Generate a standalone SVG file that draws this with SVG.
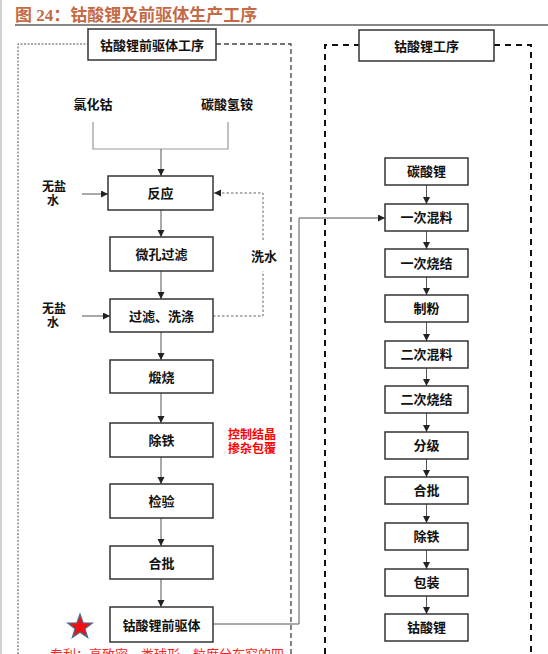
<svg xmlns="http://www.w3.org/2000/svg" width="548" height="654" viewBox="0 0 548 654">
<style>
text{font-family:"Liberation Sans","Noto Sans CJK SC",sans-serif;}
.box{fill:#fff;stroke:#333;stroke-width:1.5;}
.t{font-size:13px;font-weight:bold;fill:#111;text-anchor:middle;dominant-baseline:central;}
.s{font-size:12px;font-weight:bold;fill:#111;text-anchor:middle;dominant-baseline:central;}
.red{font-size:12px;font-weight:bold;fill:#ff0000;text-anchor:middle;dominant-baseline:central;}
.ln{fill:none;stroke:#555;stroke-width:1;}
.lg{fill:none;stroke:#999;stroke-width:1.2;}
.dot{fill:none;stroke:#666;stroke-width:1;stroke-dasharray:2.5,2;}
</style>
<defs>
<marker id="ah" markerUnits="userSpaceOnUse" markerWidth="8" markerHeight="8" refX="7" refY="3.5" orient="auto">
<path d="M0,0 L7,3.5 L0,7 z" fill="#222"/>
</marker>
</defs>
<rect width="548" height="654" fill="#fff"/>
<line x1="1" y1="0" x2="1" y2="654" stroke="#d0d0d0" stroke-width="2"/>
<g id="title">
<text x="15" y="21" style="font-family:'Liberation Serif','Noto Sans CJK SC',serif;font-size:17px;font-weight:bold;fill:#c46a45;">图 24：钴酸锂及前驱体生产工序</text>
<line x1="15" y1="25" x2="548" y2="25" stroke="#111" stroke-width="1.2"/>
</g>
<g id="frames">
<path d="M18,654 V44 H88" fill="none" stroke="#555" stroke-width="1" stroke-dasharray="2,1.5"/>
<path d="M216,44 H291 V654" fill="none" stroke="#444" stroke-width="1.3" stroke-dasharray="5,3"/>
<path d="M325,654 V45 H359 M494,45 H531 V654" fill="none" stroke="#111" stroke-width="2" stroke-dasharray="6,5"/>
</g>
<g id="label-left"><rect class="box" x="88" y="29" width="128" height="31"/><text class="t" x="152" y="45">钴酸锂前驱体工序</text></g>
<g id="label-right"><rect class="box" x="359" y="30" width="135" height="31"/><text class="t" x="426.5" y="46">钴酸锂工序</text></g>
<g id="connectors">
<path class="lg" d="M93,122 V149 H228 V122"/>
<path class="ln" d="M161,149 V176" marker-end="url(#ah)"/>
<path class="ln" d="M82,194 H108" marker-end="url(#ah)"/>
<path class="ln" d="M161,210 V237" marker-end="url(#ah)"/>
<path class="ln" d="M161,271 V299" marker-end="url(#ah)"/>
<path class="ln" d="M82,316 H110" marker-end="url(#ah)"/>
<path class="ln" d="M161,332 V360" marker-end="url(#ah)"/>
<path class="ln" d="M161,393 V423" marker-end="url(#ah)"/>
<path class="ln" d="M161,457 V484" marker-end="url(#ah)"/>
<path class="ln" d="M161,518 V546" marker-end="url(#ah)"/>
<path class="ln" d="M161,579 V607" marker-end="url(#ah)"/>
<path class="dot" d="M213,316 H263 V271"/>
<path class="dot" d="M263,240 V193 H214" marker-end="url(#ah)"/>
<path class="ln" d="M213,624 H299 V218 H385" marker-end="url(#ah)"/>
<path class="ln" d="M426.5,185 V204" marker-end="url(#ah)"/>
<path class="ln" d="M426.5,231 V249" marker-end="url(#ah)"/>
<path class="ln" d="M426.5,277 V295" marker-end="url(#ah)"/>
<path class="ln" d="M426.5,322 V341" marker-end="url(#ah)"/>
<path class="ln" d="M426.5,368 V386" marker-end="url(#ah)"/>
<path class="ln" d="M426.5,413 V432" marker-end="url(#ah)"/>
<path class="ln" d="M426.5,459 V477" marker-end="url(#ah)"/>
<path class="ln" d="M426.5,504 V523" marker-end="url(#ah)"/>
<path class="ln" d="M426.5,550 V569" marker-end="url(#ah)"/>
<path class="ln" d="M426.5,596 V614" marker-end="url(#ah)"/>
</g>
<g id="in-cocl2"><text class="t" x="93" y="104">氯化钴</text></g>
<g id="in-nh4hco3"><text class="t" x="227" y="104">碳酸氢铵</text></g>
<g id="water1"><text class="s" x="54" y="187">无盐</text><text class="s" x="53" y="201">水</text></g>
<g id="water2"><text class="s" x="54" y="309">无盐</text><text class="s" x="53" y="323">水</text></g>
<g id="wash"><text class="t" x="264" y="256">洗水</text></g>
<g id="n-react"><rect class="box" x="108" y="176" width="105" height="34"/><text class="t" x="160.5" y="193">反应</text></g>
<g id="n-micro"><rect class="box" x="110" y="237" width="103" height="34"/><text class="t" x="161.5" y="254">微孔过滤</text></g>
<g id="n-filter"><rect class="box" x="110" y="299" width="103" height="33"/><text class="t" x="161.5" y="316">过滤、洗涤</text></g>
<g id="n-calc"><rect class="box" x="110" y="360" width="103" height="33"/><text class="t" x="161.5" y="377">煅烧</text></g>
<g id="n-fe1"><rect class="box" x="110" y="423" width="103" height="34"/><text class="t" x="161.5" y="440">除铁</text></g>
<g id="n-check"><rect class="box" x="110" y="484" width="103" height="34"/><text class="t" x="161.5" y="501">检验</text></g>
<g id="n-batch1"><rect class="box" x="110" y="546" width="103" height="33"/><text class="t" x="161.5" y="563">合批</text></g>
<g id="n-precursor"><rect class="box" x="110" y="607" width="103" height="35"/><text class="t" x="161.5" y="625">钴酸锂前驱体</text></g>
<g id="note-red"><text class="red" x="252" y="435">控制结晶</text><text class="red" x="252" y="449">掺杂包覆</text></g>
<g id="star"><polygon points="80,614 83.1,622.8 92.4,623 85,628.7 87.7,637.6 80,632.3 72.3,637.6 75,628.7 67.6,623 76.9,622.8" fill="#ee1111" stroke="#4a6f96" stroke-width="1.2"/></g>
<g id="note-patent"><text x="50" y="659" style="font-size:13px;fill:#ff2222;">专利：高致密、类球形、粒度分布窄的四</text></g>
<g id="r1"><rect class="box" x="385" y="158" width="83" height="27"/><text class="t" x="426.5" y="171.5">碳酸锂</text></g>
<g id="r2"><rect class="box" x="385" y="204" width="83" height="27"/><text class="t" x="426.5" y="217.5">一次混料</text></g>
<g id="r3"><rect class="box" x="385" y="249" width="83" height="28"/><text class="t" x="426.5" y="263">一次烧结</text></g>
<g id="r4"><rect class="box" x="385" y="295" width="83" height="27"/><text class="t" x="426.5" y="308.5">制粉</text></g>
<g id="r5"><rect class="box" x="385" y="341" width="83" height="27"/><text class="t" x="426.5" y="354.5">二次混料</text></g>
<g id="r6"><rect class="box" x="385" y="386" width="83" height="27"/><text class="t" x="426.5" y="399.5">二次烧结</text></g>
<g id="r7"><rect class="box" x="385" y="432" width="83" height="27"/><text class="t" x="426.5" y="445.5">分级</text></g>
<g id="r8"><rect class="box" x="385" y="477" width="83" height="27"/><text class="t" x="426.5" y="490.5">合批</text></g>
<g id="r9"><rect class="box" x="385" y="523" width="83" height="27"/><text class="t" x="426.5" y="536.5">除铁</text></g>
<g id="r10"><rect class="box" x="385" y="569" width="83" height="27"/><text class="t" x="426.5" y="582.5">包装</text></g>
<g id="r11"><rect class="box" x="385" y="614" width="83" height="27"/><text class="t" x="426.5" y="627.5">钴酸锂</text></g>
</svg>
